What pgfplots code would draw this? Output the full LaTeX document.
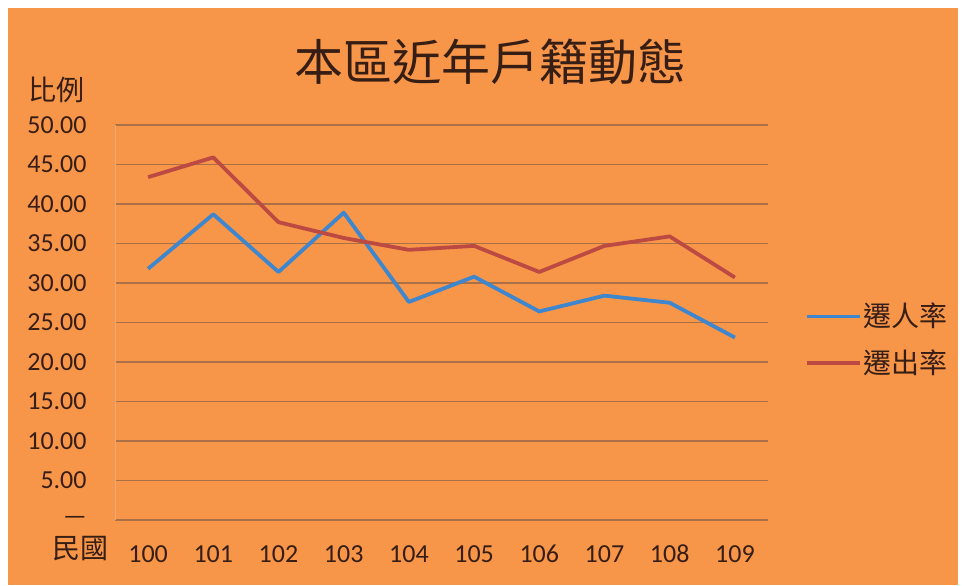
\documentclass[border=0pt]{standalone}
\usepackage{fontspec}
\setmainfont{Carlito}
\newfontfamily\cjk{Noto Sans CJK TC}
\usepackage{pgfplots}
\pgfplotsset{compat=1.18}
\definecolor{bg}{RGB}{247,150,72}
\definecolor{gridc}{RGB}{172,112,72}
\definecolor{leftc}{RGB}{235,170,120}
\definecolor{txt}{RGB}{55,30,20}
\definecolor{blueline}{RGB}{62,134,206}
\definecolor{redline}{RGB}{188,74,66}
\begin{document}
\begin{tikzpicture}
\fill[white] (0,0) rectangle (482pt,292.5pt);
\fill[bg] (4pt,0) rectangle (479pt,288.5pt);
\node[font=\cjk\fontsize{24.5pt}{28pt}\selectfont, text=txt] at (245pt,261.5pt) {本區近年戶籍動態};
\node[font=\cjk\fontsize{14pt}{16pt}\selectfont, text=txt] at (28pt,247.5pt) {比例};
\node[font=\cjk\fontsize{14pt}{16pt}\selectfont, text=txt] at (40pt,18pt) {民國};
\begin{axis}[
  at={(57.75pt,32.5pt)}, anchor=south west,
  scale only axis, width=326pt, height=197.5pt,
  xmin=-0.5, xmax=9.5, ymin=0, ymax=50,
  xtick={0,...,9}, xticklabels={100,101,102,103,104,105,106,107,108,109},
  ytick={0,5,10,15,20,25,30,35,40,45,50},
  yticklabels={\raisebox{-0.25em}{—}\hspace{0.15em},5.00,10.00,15.00,20.00,25.00,30.00,35.00,40.00,45.00,50.00},
  /pgf/number format/assume math mode=true,
  ymajorgrids, grid style={gridc, line width=0.7pt},
  axis x line*=bottom, axis y line*=left,
  x axis line style={-, gridc, line width=0.8pt},
  y axis line style={-, leftc, line width=0.8pt},
  major tick length=0pt,
  ticklabel style={font=\fontsize{13pt}{15pt}\selectfont, text=txt},
  xticklabel style={anchor=base, yshift=-21pt},
  yticklabel style={anchor=east, inner sep=0pt, xshift=-14.25pt},
  legend style={at={(1.0575,0.456)}, anchor=west, draw=none, fill=none,
    font=\cjk\fontsize{14pt}{16pt}\selectfont, text=txt, row sep=9pt, inner sep=0pt,
    nodes={inner sep=0.5pt}},
  legend cell align=left,
  legend image code/.code={\draw[#1] (0pt,0pt) -- (26.5pt,0pt);},
]
\addplot[blueline, line width=1.9pt, line join=round] coordinates {
 (0,31.8) (1,38.7) (2,31.4) (3,38.9) (4,27.6) (5,30.8) (6,26.4) (7,28.4) (8,27.5) (9,23.1)};
\addlegendentry{遷人率}
\addplot[redline, line width=1.9pt, line join=round] coordinates {
 (0,43.4) (1,45.9) (2,37.7) (3,35.7) (4,34.2) (5,34.7) (6,31.4) (7,34.7) (8,35.9) (9,30.7)};
\addlegendentry{遷出率}
\end{axis}
\end{tikzpicture}
\end{document}
